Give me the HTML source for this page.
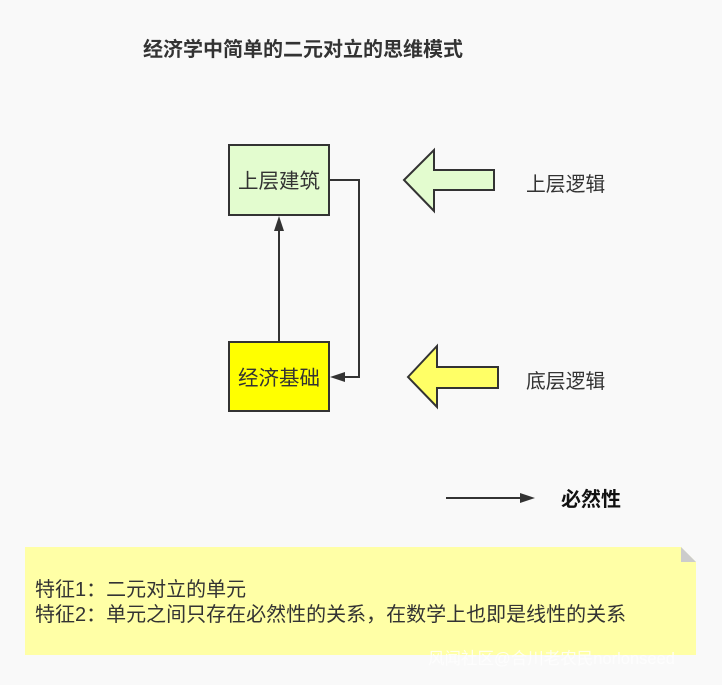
<!DOCTYPE html>
<html><head><meta charset="utf-8"><style>
html,body{margin:0;padding:0;background:#f9f9f9;}
svg text{font-family:"Liberation Sans","Noto Sans CJK SC",sans-serif;}
</style></head><body>
<svg width="722" height="680" viewBox="0 0 722 680" xmlns="http://www.w3.org/2000/svg">
<rect width="722" height="680" fill="#f9f9f9"/>
<text x="143" y="56" font-size="20" font-weight="bold" fill="#333">经济学中简单的二元对立的思维模式</text>
<rect x="229" y="145" width="100" height="70" fill="#e3fccf" stroke="#333" stroke-width="2"/>
<text x="279" y="188" font-size="20.5" fill="#333" text-anchor="middle">上层建筑</text>
<rect x="229" y="342" width="100" height="69" fill="#ffff00" stroke="#333" stroke-width="2"/>
<text x="279" y="385" font-size="20.5" fill="#333" text-anchor="middle">经济基础</text>
<line x1="279" y1="342" x2="279" y2="230" stroke="#333" stroke-width="2"/>
<polygon points="279,216 274,231 284,231" fill="#333"/>
<polyline points="329,180 359,180 359,377 344,377" fill="none" stroke="#333" stroke-width="2"/>
<polygon points="330,377 345,372 345,382" fill="#333"/>
<polygon points="404,180 434,150 434,170 494,170 494,190 434,190 434,211" fill="#e3fccf" stroke="#333" stroke-width="2"/>
<polygon points="408,377 437,346 437,367 498,367 498,388 437,388 437,407" fill="#ffff66" stroke="#333" stroke-width="2"/>
<text x="526" y="191" font-size="19.8" fill="#333">上层逻辑</text>
<text x="526" y="388" font-size="19.8" fill="#333">底层逻辑</text>
<line x1="446" y1="498" x2="522" y2="498" stroke="#333" stroke-width="2"/>
<polygon points="535,498 520,493 520,503" fill="#333"/>
<text x="561" y="506" font-size="20" font-weight="bold" fill="#111">必然性</text>
<polygon points="25,547 681,547 696,562 696,655 25,655" fill="#ffffa6"/>
<polygon points="681,547 696,562 681,562" fill="#cccccc"/>
<text x="35" y="596" font-size="20" fill="#333">特征1：二元对立的单元</text>
<text x="35" y="621" font-size="20" fill="#333">特征2：单元之间只存在必然性的关系，在数学上也即是线性的关系</text>
<text x="428" y="664" font-size="16.5" fill="#ffffff" opacity="0.8">风闻社区@合川老农民norlonseed</text>
</svg>
</body></html>
